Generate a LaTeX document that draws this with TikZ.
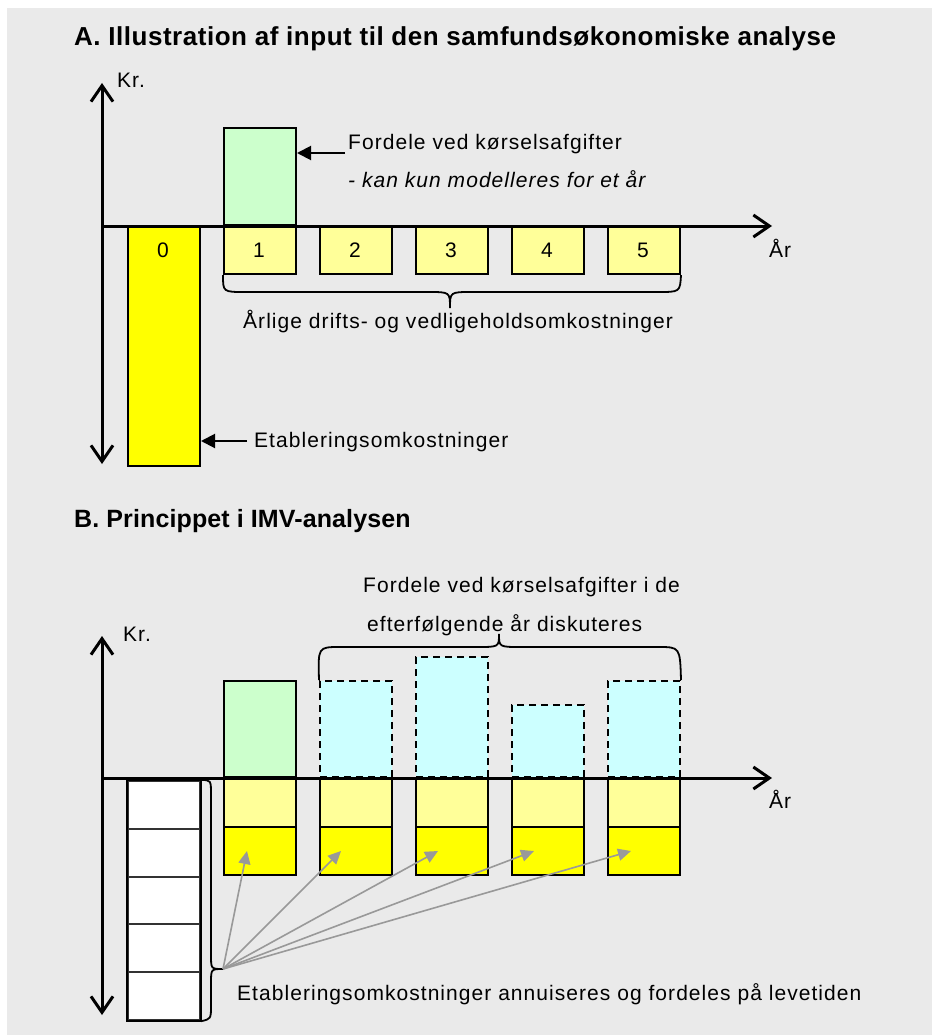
\documentclass[tikz,border=0pt]{standalone}
\usepackage{fontspec}
\setmainfont{Liberation Sans}
\newfontfamily\lblfont[LetterSpace=5]{Liberation Sans}
\newfontfamily\headfont[LetterSpace=2]{Liberation Sans}
\newfontfamily\headfontB[LetterSpace=0.5]{Liberation Sans}
\usetikzlibrary{arrows.meta}

\definecolor{bggray}{HTML}{EAEAEA}
\definecolor{ylw}{HTML}{FFFF00}
\definecolor{lylw}{HTML}{FFFF99}
\definecolor{lgreen}{HTML}{CCFFCC}
\definecolor{lcyan}{HTML}{CCFFFF}
\definecolor{arrgray}{HTML}{999999}

\newcommand\lblsize{\lblfont\fontsize{21}{25}\selectfont}

\begin{document}
\begin{tikzpicture}[x=1pt,y=-1pt,
  bar/.style={draw=black, line width=2pt, inner sep=0pt, minimum width=72pt, font=\lblsize},
  cell/.style={bar, fill=white, minimum height=48pt, draw=black!80},
  dashbar/.style={bar, fill=lcyan, dash pattern=on 7pt off 5pt},
  barb/.tip={Straight Barb[length=16pt,width=22pt,line width=3pt]},
  axis/.style={line width=3pt, -barb},
  axis2/.style={line width=3pt, barb-barb},
  ptr/.style={line width=2pt, -{Triangle[length=14pt,width=14pt]}},
  gptr/.style={draw=arrgray, line width=1.6pt, -{Triangle[length=13pt,width=12pt]}},
  lbl/.style={font=\lblsize, inner sep=0pt},
  brace/.style={line width=1.8pt},
  title/.style={inner sep=0pt, anchor=base west, font=\headfont\bfseries\fontsize{26}{30}\selectfont},
  titleB/.style={inner sep=0pt, anchor=base west, font=\headfontB\bfseries\fontsize{25}{30}\selectfont}
]
\useasboundingbox (0,0) rectangle (932,1035);
\fill[white] (0,0) rectangle (932,1035);
\fill[bggray] (7,8) rectangle (932,1035);

% ---------- Part A ----------
\node[title] (titleA) at (74,46) {A. Illustration af input til den samfundsøkonomiske analyse};

% bars
\node[bar, fill=ylw, minimum height=239pt, anchor=north west] (bar0) at (127,226) {};
\node[lbl, anchor=base] (n0) at (163,257) {0};
\node[bar, fill=lgreen, minimum height=97pt, anchor=south west] (greenA) at (223,226) {};
\foreach \i/\x in {1/223,2/319,3/415,4/511,5/607}{
  \node[bar, fill=lylw, minimum height=47pt, anchor=north west] (yA\i) at (\x,226) {};
  \node[lbl, anchor=base] at (\x+36,257) {\i};
}

% axes
\coordinate (oA) at (102,226);
\coordinate (ytopA) at (102,83);
\coordinate (ybotA) at (102,464);
\coordinate (xendA) at (772,226);
\draw[axis2] (ybotA) -- (ytopA);
\draw[axis] (oA) -- (xendA);
\node[lbl, anchor=base west] (krA) at (117,88) {Kr.};
\node[lbl, anchor=base west] (aarA) at (769,257) {År};

% annotations
\node[lbl, anchor=base west] (fordA) at (348,150) {Fordele ved kørselsafgifter};
\node[lbl, anchor=base west] (kanA) at (348,188) {\itshape - kan kun modelleres for et år};
\coordinate (fordArr) at (345,153);
\draw[ptr] (fordArr) -- (greenA.east |- fordArr);

\node[lbl, anchor=base west] (etabA) at (254,447) {Etableringsomkostninger};
\coordinate (etabArr) at (247,441);
\draw[ptr] (etabArr) -- (bar0.east |- etabArr);

% brace under the yearly boxes
\coordinate (bA) at (450,308);
\draw[brace] (yA1.south west) .. controls (223,292) .. (245,292) -- (428,292)
  .. controls (450,292) .. (bA) .. controls (450,292) .. (472,292) -- (658,292)
  .. controls (680,292) .. (yA5.south east);
\node[lbl, anchor=base west] (aarlige) at (243,328) {Årlige drifts- og vedligeholdsomkostninger};

% ---------- Part B ----------
\node[titleB] (titleB) at (74,527) {B. Princippet i IMV-analysen};

\node[bar, fill=lgreen, minimum height=96pt, anchor=south west] (greenB) at (223,778) {};
\foreach \i/\x/\h in {2/319/96,3/415/120,4/511/72,5/607/96}{
  \node[dashbar, minimum height=\h pt, anchor=south west] (cyB\i) at (\x,778) {};
}
\foreach \i/\x in {1/223,2/319,3/415,4/511,5/607}{
  \node[bar, fill=lylw, minimum height=48pt, anchor=north west] (lyB\i) at (\x,778) {};
  \node[bar, fill=ylw, minimum height=48pt, anchor=north west] (yB\i) at (\x,826) {};
}

% annuity cells
\foreach \k in {0,...,4}{
  \node[cell, anchor=north west] (cell\k) at (127,{780+47.8*\k}) {};
}
\draw[line width=2pt] (cell0.north west) rectangle (cell4.south east);

% axes
\coordinate (oB) at (102,778);
\coordinate (ytopB) at (102,636);
\coordinate (ybotB) at (102,1015);
\coordinate (xendB) at (772,778);
\draw[axis2] (ybotB) -- (ytopB);
\draw[axis] (oB) -- (xendB);
\node[lbl, anchor=base west] (krB) at (123,641) {Kr.};
\node[lbl, anchor=base west] (aarB) at (769,808) {År};

% brace over the discussed years
\coordinate (bB) at (499,634);
\draw[brace] (cyB2.north west) .. controls (318,647) .. (340,647) -- (477,647)
  .. controls (499,647) .. (bB) .. controls (499,647) .. (521,647) -- (658,647)
  .. controls (680,647) .. (cyB5.north east);
\node[lbl, anchor=base west] (fordB1) at (363,592) {Fordele ved kørselsafgifter i de};
\node[lbl, anchor=base west] (fordB2) at (367,631) {efterfølgende år diskuteres};

% brace beside the annuity cells
\coordinate (bC) at (223,969);
\draw[brace] (cell0.north east) .. controls (211,780) .. (211,795) -- (211,955)
  .. controls (211,969) .. (bC) .. controls (211,969) .. (211,983) -- (211,1005)
  .. controls (211,1019) .. (cell4.south east);

% distribution arrows
\foreach \i/\x in {1/247,2/341,3/438,4/534,5/631}{
  \coordinate (t\i) at (\x,851);
  \draw[gptr] (bC) -- (t\i);
}
\node[lbl, anchor=base west] (etabB) at (237,1000) {Etableringsomkostninger annuiseres og fordeles på levetiden};
\end{tikzpicture}
\end{document}
